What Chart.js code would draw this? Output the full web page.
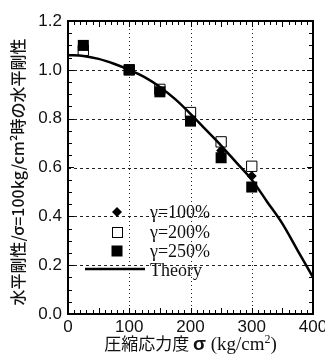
<!DOCTYPE html>
<html>
<head>
<meta charset="utf-8">
<script src="https://cdn.jsdelivr.net/npm/chart.js@4/dist/chart.umd.min.js"></script>
<style>
  html, body { margin: 0; padding: 0; background: #fff; }
  #wrap { width: 325px; height: 356px; }
</style>
</head>
<body>
<div id="wrap"><canvas id="chart" width="325" height="356"></canvas></div>
<script>
// 圧縮応力度ごとの水平剛性比（σ=100kg/cm²時の値で基準化）
const sigma = [25, 100, 150, 200, 250, 300];
const gamma100 = [1.08, 1.00, 0.92, 0.81, 0.67, 0.565];
const gamma200 = [1.08, 1.00, 0.92, 0.825, 0.705, 0.605];
const gamma250 = [1.10, 1.00, 0.91, 0.79, 0.64, 0.52];

// 理論曲線
const theorySigma = [0, 25, 50, 75, 100, 125, 150, 175, 200, 225, 250, 275, 300, 325, 350, 375, 400];
const theoryValues = [1.06, 1.057, 1.045, 1.025, 1.00, 0.97, 0.93, 0.88, 0.82, 0.755, 0.69, 0.62, 0.55, 0.46, 0.37, 0.26, 0.15];

const xTicks = [0, 100, 200, 300, 400];
const yTicks = [0.0, 0.2, 0.4, 0.6, 0.8, 1.0, 1.2];

const legendLabels = ["γ=100%", "γ=200%", "γ=250%", "Theory"];

function toPoints(xs, ys) {
  return xs.map((x, i) => ({ x: x, y: ys[i] }));
}

Chart.defaults.font.family = "'Liberation Sans', Arial, sans-serif";
Chart.defaults.color = "#111";

// 点線のグリッド（縦は50ごと、横は0.2ごと）
const gridPlugin = {
  id: "dottedGrid",
  beforeDatasetsDraw(chart) {
    const ctx = chart.ctx;
    const a = chart.chartArea;
    const xs = chart.scales.x;
    const ys = chart.scales.y;
    ctx.save();
    ctx.strokeStyle = "#222";
    ctx.lineWidth = 1;

    ctx.setLineDash([1, 3]);
    ctx.beginPath();
    xs.ticks.forEach(t => {
      if (t.value <= xs.min || t.value >= xs.max) return;
      const px = Math.round(xs.getPixelForValue(t.value)) + 0.5;
      ctx.moveTo(px, a.bottom);
      ctx.lineTo(px, a.top);
    });
    ctx.stroke();

    ctx.setLineDash([3, 3]);
    ctx.beginPath();
    ys.ticks.forEach(t => {
      if (t.value <= ys.min + 1e-6 || t.value >= ys.max - 1e-6) return;
      const py = Math.round(ys.getPixelForValue(t.value)) + 0.5;
      ctx.moveTo(a.left, py);
      ctx.lineTo(a.right, py);
    });
    ctx.stroke();
    ctx.restore();
  }
};

// 枠と内向きの補助目盛
const framePlugin = {
  id: "frame",
  afterDraw(chart) {
    const ctx = chart.ctx;
    const a = chart.chartArea;
    const xs = chart.scales.x;
    const ys = chart.scales.y;
    ctx.save();
    ctx.strokeStyle = "#000";
    ctx.lineWidth = 1;
    ctx.beginPath();
    for (let v = 0; v <= 400; v += 10) {
      const px = Math.round(xs.getPixelForValue(v)) + 0.5;
      const len = v % 50 === 0 ? 6 : 4;
      ctx.moveTo(px, a.bottom); ctx.lineTo(px, a.bottom - len);
      ctx.moveTo(px, a.top); ctx.lineTo(px, a.top + len);
    }
    for (let k = 0; k <= 24; k++) {
      const py = Math.round(ys.getPixelForValue(k * 0.05)) + 0.5;
      const len = k % 4 === 0 ? 6 : 4;
      ctx.moveTo(a.left, py); ctx.lineTo(a.left + len, py);
      ctx.moveTo(a.right, py); ctx.lineTo(a.right - len, py);
    }
    ctx.stroke();
    ctx.lineWidth = 2;
    ctx.strokeRect(a.left, a.top, a.right - a.left, a.bottom - a.top);
    ctx.restore();
  }
};

// 軸タイトル（和文と欧文の混植）
const titlePlugin = {
  id: "titles",
  afterDraw(chart) {
    const ctx = chart.ctx;
    const a = chart.chartArea;
    ctx.save();
    ctx.fillStyle = "#111";
    ctx.textBaseline = "alphabetic";

    // 横軸
    const parts = [
      { t: "圧縮応力度 ", f: "17px 'Noto Sans CJK JP'", dy: 0 },
      { t: "σ", f: "bold 19px 'Liberation Sans'", dy: 0 },
      { t: " (kg/cm", f: "19px 'Liberation Serif'", dy: 0 },
      { t: "2", f: "12px 'Liberation Serif'", dy: -7 },
      { t: ")", f: "19px 'Liberation Serif'", dy: 0 }
    ];
    let total = 0;
    parts.forEach(p => { ctx.font = p.f; p.w = ctx.measureText(p.t).width; total += p.w; });
    let x = (a.left + a.right) / 2 - total / 2;
    const base = 350;
    parts.forEach(p => {
      ctx.font = p.f;
      ctx.fillText(p.t, x, base + p.dy);
      x += p.w;
    });

    // 縦軸
    ctx.translate(24, 172);
    ctx.rotate(-Math.PI / 2);
    ctx.font = "500 16px 'Noto Sans CJK JP'";
    ctx.textAlign = "center";
    ctx.fillText("水平剛性/σ=100kg/cm²時の水平剛性", 0, 0);
    ctx.restore();
  }
};

// 凡例（グラフ内左下）
const legendPlugin = {
  id: "innerLegend",
  afterDraw(chart) {
    const ctx = chart.ctx;
    const a = chart.chartArea;
    const mx = a.left + 49;
    const rows = [a.top + 191, a.top + 211, a.top + 230, a.top + 248];
    ctx.save();
    ctx.fillStyle = "#000";
    ctx.strokeStyle = "#000";

    // ◆
    ctx.beginPath();
    ctx.moveTo(mx, rows[0] - 5); ctx.lineTo(mx + 5, rows[0]);
    ctx.lineTo(mx, rows[0] + 5); ctx.lineTo(mx - 5, rows[0]);
    ctx.closePath(); ctx.fill();
    // □
    ctx.lineWidth = 1;
    ctx.fillStyle = "#fff";
    ctx.fillRect(mx - 5, rows[1] - 5, 10, 10);
    ctx.strokeRect(mx - 5 + 0.5, rows[1] - 5 + 0.5, 10, 10);
    // ■
    ctx.fillStyle = "#000";
    ctx.fillRect(mx - 5.5, rows[2] - 5.5, 11, 11);
    // ―
    ctx.lineWidth = 2.5;
    ctx.beginPath();
    ctx.moveTo(a.left + 17, rows[3]); ctx.lineTo(a.left + 77, rows[3]);
    ctx.stroke();

    ctx.font = "18px 'Liberation Serif'";
    ctx.textBaseline = "middle";
    ctx.fillStyle = "#111";
    legendLabels.forEach((t, i) => {
      ctx.fillText(t, a.left + 82, rows[i] + (i === 3 ? 2 : 1));
    });
    ctx.restore();
  }
};

const ctx = document.getElementById("chart").getContext("2d");
new Chart(ctx, {
  type: "scatter",
  data: {
    datasets: [
      {
        label: "Theory",
        type: "line",
        data: toPoints(theorySigma, theoryValues),
        borderColor: "#000",
        borderWidth: 2.5,
        pointRadius: 0,
        cubicInterpolationMode: "monotone",
        fill: false
      },
      {
        label: legendLabels[2],
        data: toPoints(sigma, gamma250),
        pointStyle: "rect",
        pointRadius: 7.8,
        backgroundColor: "#000",
        borderColor: "#000",
        borderWidth: 0
      },
      {
        label: legendLabels[1],
        data: toPoints(sigma, gamma200),
        pointStyle: "rect",
        pointRadius: 7.3,
        backgroundColor: "#fff",
        borderColor: "#000",
        borderWidth: 1
      },
      {
        label: legendLabels[0],
        data: toPoints(sigma, gamma100),
        pointStyle: "rectRot",
        pointRadius: 5,
        backgroundColor: "#000",
        borderColor: "#000",
        borderWidth: 0
      }
    ]
  },
  options: {
    responsive: false,
    animation: false,
    layout: { padding: { top: 21, right: 12, left: 0, bottom: 0 } },
    plugins: {
      legend: { display: false },
      tooltip: { enabled: false }
    },
    scales: {
      x: {
        type: "linear",
        min: 0,
        max: 400,
        ticks: {
          stepSize: 50,
          padding: 3,
          font: { size: 17 },
          color: "#111",
          maxRotation: 0,
          callback: v => (xTicks.includes(v) ? v : "")
        },
        grid: { display: false, drawTicks: false },
        border: { display: false },
        afterFit(scale) {
          scale.height = 42;
          scale.paddingLeft = 0;
          scale.paddingRight = 0;
        }
      },
      y: {
        type: "linear",
        min: 0,
        max: 1.2,
        ticks: {
          stepSize: 0.2,
          padding: 6,
          font: { size: 17 },
          color: "#111",
          callback: v => {
            const hit = yTicks.find(t => Math.abs(t - v) < 1e-6);
            return hit === undefined ? "" : hit.toFixed(1);
          }
        },
        grid: { display: false, drawTicks: false },
        border: { display: false },
        afterFit(scale) {
          scale.width = 68;
          scale.paddingTop = 0;
          scale.paddingBottom = 0;
        }
      }
    }
  },
  plugins: [gridPlugin, framePlugin, titlePlugin, legendPlugin]
});
</script>
</body>
</html>
